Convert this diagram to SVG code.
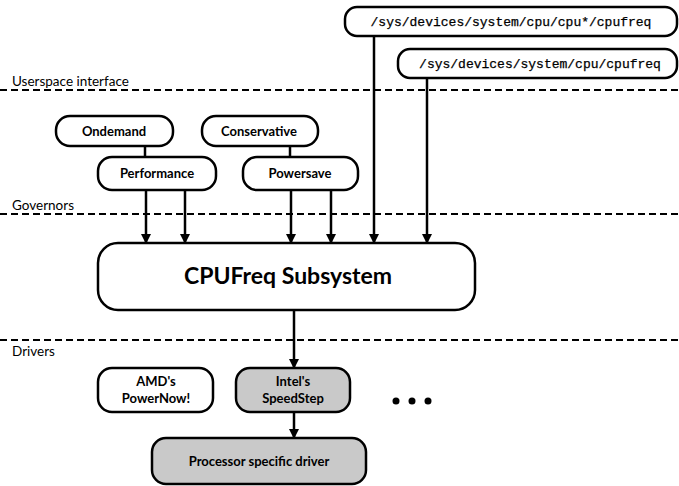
<svg xmlns="http://www.w3.org/2000/svg" width="679" height="486" viewBox="0 0 679 486">
<style>
.box{fill:#fff;stroke:#000;stroke-width:2.5}
.gray{fill:#c9c9c9}
.t{font-family:Lato,"Liberation Sans",sans-serif;font-weight:bold;font-size:13px;text-anchor:middle;fill:#000}
.mono{font-family:"Liberation Mono","DejaVu Sans Mono",monospace;font-size:13px;text-anchor:middle;fill:#000;stroke:#000;stroke-width:0.25}
.lab{font-family:Lato,"Liberation Sans",sans-serif;font-size:13.5px;fill:#000}
.dash{stroke:#000;stroke-width:2;stroke-dasharray:7,4;fill:none}
.c{stroke:#000;stroke-width:2.5;fill:none}
</style>
<defs>
<marker id="ah" markerWidth="10" markerHeight="12" refX="9" refY="5" orient="auto" markerUnits="userSpaceOnUse" viewBox="0 0 10 10">
<path d="M0,0 L10,5 L0,10 Z" fill="#000"/>
</marker>
</defs>
<g id="layers">
<line class="dash" x1="0" y1="90" x2="679" y2="90"/>
<line class="dash" x1="0" y1="214" x2="679" y2="214"/>
<line class="dash" x1="0" y1="340" x2="679" y2="340"/>
<text class="lab" x="12" y="86">Userspace interface</text>
<text class="lab" x="12" y="210">Governors</text>
<text class="lab" x="12" y="356">Drivers</text>
</g>
<g id="connectors">
<line class="c" x1="145" y1="146" x2="145" y2="157"/>
<line class="c" x1="290" y1="146" x2="290" y2="157"/>
<line class="c" x1="146" y1="190" x2="146" y2="243" marker-end="url(#ah)"/>
<line class="c" x1="185" y1="190" x2="185" y2="243" marker-end="url(#ah)"/>
<line class="c" x1="291" y1="190" x2="291" y2="243" marker-end="url(#ah)"/>
<line class="c" x1="331" y1="190" x2="331" y2="243" marker-end="url(#ah)"/>
<line class="c" x1="374" y1="36" x2="374" y2="243" marker-end="url(#ah)"/>
<line class="c" x1="427" y1="78" x2="427" y2="243" marker-end="url(#ah)"/>
<line class="c" x1="294" y1="310" x2="294" y2="368" marker-end="url(#ah)"/>
<line class="c" x1="294" y1="412" x2="294" y2="438" marker-end="url(#ah)"/>
</g>
<g id="sys-cpu-star">
<rect class="box" x="345" y="7" width="332" height="29" rx="12"/>
<text class="mono" x="511" y="26">/sys/devices/system/cpu/cpu*/cpufreq</text>
</g>
<g id="sys-cpu">
<rect class="box" x="398" y="49" width="279" height="29" rx="12"/>
<text class="mono" x="540" y="68">/sys/devices/system/cpu/cpufreq</text>
</g>
<g id="ondemand">
<rect class="box" x="56" y="116" width="117" height="30" rx="14"/>
<text class="t" x="114" y="136">Ondemand</text>
</g>
<g id="conservative">
<rect class="box" x="202" y="116" width="116" height="30" rx="14"/>
<text class="t" x="259" y="136">Conservative</text>
</g>
<g id="performance">
<rect class="box" x="98" y="157" width="118" height="33" rx="14"/>
<text class="t" x="157" y="178">Performance</text>
</g>
<g id="powersave">
<rect class="box" x="243" y="157" width="115" height="33" rx="14"/>
<text class="t" x="300" y="178">Powersave</text>
</g>
<g id="cpufreq">
<rect class="box" x="98" y="243" width="377" height="67" rx="20"/>
<text class="t" x="288" y="284" style="font-size:23px">CPUFreq Subsystem</text>
</g>
<g id="amd">
<rect class="box" x="98" y="368" width="115" height="44" rx="14"/>
<text class="t" x="156" y="386">AMD's</text>
<text class="t" x="156" y="403">PowerNow!</text>
</g>
<g id="intel">
<rect class="box gray" x="236" y="368" width="114" height="44" rx="14"/>
<text class="t" x="293" y="386">Intel's</text>
<text class="t" x="293" y="403">SpeedStep</text>
</g>
<g id="dots">
<circle cx="396" cy="401" r="3.5"/>
<circle cx="412" cy="401" r="3.5"/>
<circle cx="428" cy="401" r="3.5"/>
</g>
<g id="processor">
<rect class="box gray" x="152" y="438" width="214" height="46" rx="14"/>
<text class="t" x="259" y="466">Processor specific driver</text>
</g>
</svg>
